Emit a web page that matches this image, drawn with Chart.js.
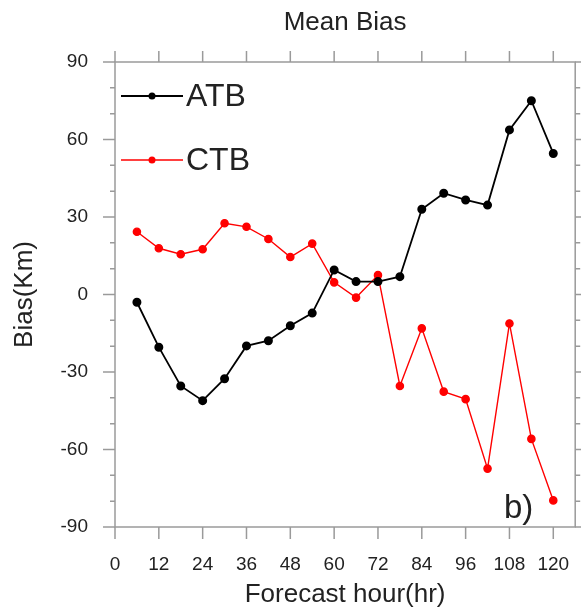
<!DOCTYPE html>
<html>
<head>
<meta charset="utf-8">
<script src="https://cdn.jsdelivr.net/npm/chart.js@4/dist/chart.umd.min.js"></script>
<style>
  html, body { margin: 0; padding: 0; background: #fff; }
  #wrap { width: 581px; height: 610px; position: relative; }
</style>
</head>
<body>
<div id="wrap"><canvas id="c"></canvas></div>
<script>
// ---- data ----
const hours = [6, 12, 18, 24, 30, 36, 42, 48, 54, 60, 66, 72, 78, 84, 90, 96, 102, 108, 114, 120];
const atb = [-3, -20.4, -35.4, -41.1, -32.6, -19.9, -17.9, -12.1, -7.2, 9.5,
             5.0, 5.0, 6.9, 33.0, 39.2, 36.6, 34.6, 63.7, 75.0, 54.6];
const ctb = [24.3, 17.9, 15.6, 17.5, 27.6, 26.2, 21.5, 14.5, 19.7, 4.7,
             -1.2, 7.5, -35.4, -13.1, -37.6, -40.5, -67.4, -11.2, -55.9, -79.7];
const xTicks = [0, 12, 24, 36, 48, 60, 72, 84, 96, 108, 120];
const yTicks = [-90, -60, -30, 0, 30, 60, 90];
const yMinor = [-80, -70, -50, -40, -20, -10, 10, 20, 40, 50, 70, 80];

const FONT = "'Liberation Sans', Arial, Helvetica, sans-serif";
const TEXT = '#222';
const FRAME = '#9a9a9a';

function toPoints(xs, ys) {
  return xs.map((x, i) => ({ x: x, y: ys[i] }));
}

// frame + outward ticks, like the original plot
const framePlugin = {
  id: 'frame',
  beforeDatasetsDraw(chart) {
    const { ctx, chartArea: a, scales: { x, y } } = chart;
    ctx.save();
    ctx.strokeStyle = FRAME;
    ctx.lineWidth = 1.5;
    ctx.strokeRect(a.left, a.top, a.right - a.left, a.bottom - a.top);
    ctx.beginPath();
    xTicks.forEach(v => {
      const px = x.getPixelForValue(v);
      ctx.moveTo(px, a.bottom); ctx.lineTo(px, a.bottom + 12);
      ctx.moveTo(px, a.top); ctx.lineTo(px, a.top - 11);
    });
    yTicks.forEach(v => {
      const py = y.getPixelForValue(v);
      ctx.moveTo(a.left, py); ctx.lineTo(a.left - 12, py);
      ctx.moveTo(a.right, py); ctx.lineTo(a.right + 12, py);
    });
    yMinor.forEach(v => {
      const py = y.getPixelForValue(v);
      ctx.moveTo(a.left, py); ctx.lineTo(a.left - 5, py);
      ctx.moveTo(a.right, py); ctx.lineTo(a.right + 5, py);
    });
    ctx.stroke();
    ctx.restore();
  },
  afterDraw(chart) {
    const { ctx, chartArea: a } = chart;
    const cx = (a.left + a.right) / 2;
    const cy = (a.top + a.bottom) / 2;
    ctx.save();
    ctx.fillStyle = TEXT;
    ctx.textAlign = 'center';
    ctx.textBaseline = 'middle';
    // title
    ctx.font = '26px ' + FONT;
    ctx.fillText('Mean Bias', cx, 23);
    // x axis title
    ctx.fillText('Forecast hour(hr)', cx, 595);
    // y axis title
    ctx.save();
    ctx.translate(25, cy);
    ctx.rotate(-Math.PI / 2);
    ctx.fillText('Bias(Km)', 0, 0);
    ctx.restore();
    // panel label
    ctx.textAlign = 'left';
    ctx.textBaseline = 'alphabetic';
    ctx.font = '33px ' + FONT;
    ctx.fillText('b)', 504, 518);

    // legend
    const rows = [
      { label: 'ATB', ds: chart.data.datasets[0], y: a.top + 34 },
      { label: 'CTB', ds: chart.data.datasets[1], y: a.top + 98 }
    ];
    rows.forEach(r => {
      ctx.strokeStyle = r.ds.borderColor;
      ctx.lineWidth = r.ds.borderWidth;
      ctx.beginPath();
      ctx.moveTo(a.left + 6, r.y);
      ctx.lineTo(a.left + 68, r.y);
      ctx.stroke();
      ctx.fillStyle = r.ds.pointBackgroundColor;
      ctx.beginPath();
      ctx.arc(a.left + 37, r.y, 3.5, 0, Math.PI * 2);
      ctx.fill();
      ctx.fillStyle = TEXT;
      ctx.font = '32px ' + FONT;
      ctx.textBaseline = 'middle';
      ctx.fillText(r.label, a.left + 71, r.y + 1);
    });
    ctx.restore();
  }
};

new Chart(document.getElementById('c'), {
  type: 'line',
  data: {
    datasets: [
      {
        label: 'ATB',
        data: toPoints(hours, atb),
        borderColor: '#000',
        backgroundColor: '#000',
        pointBackgroundColor: '#000',
        pointBorderColor: '#000',
        borderWidth: 1.8,
        pointRadius: 3.6,
        tension: 0
      },
      {
        label: 'CTB',
        data: toPoints(hours, ctb),
        borderColor: '#ff0000',
        backgroundColor: '#ff0000',
        pointBackgroundColor: '#ff0000',
        pointBorderColor: '#ff0000',
        borderWidth: 1.4,
        pointRadius: 3.6,
        tension: 0
      }
    ]
  },
  options: {
    responsive: true,
    maintainAspectRatio: false,
    animation: false,
    clip: false,
    layout: { padding: { left: 0, right: 2, top: 62, bottom: 0 } },
    plugins: {
      legend: { display: false },
      title: { display: false },
      tooltip: { enabled: false }
    },
    scales: {
      x: {
        type: 'linear',
        min: 0,
        max: 126,
        afterFit: s => { s.height = 83; s.paddingLeft = 0; s.paddingRight = 0; },
        afterBuildTicks: s => { s.ticks = xTicks.map(v => ({ value: v })); },
        grid: { display: false, drawTicks: false, tickLength: 0 },
        border: { display: false },
        ticks: {
          includeBounds: false,
          padding: 26,
          maxRotation: 0,
          autoSkip: false,
          color: TEXT,
          font: { family: FONT, size: 19 }
        }
      },
      y: {
        min: -90,
        max: 90,
        afterFit: s => { s.width = 115; s.paddingTop = 0; s.paddingBottom = 0; },
        afterBuildTicks: s => { s.ticks = yTicks.map(v => ({ value: v })); },
        grid: { display: false, drawTicks: false, tickLength: 0 },
        border: { display: false },
        ticks: {
          padding: 27,
          autoSkip: false,
          color: TEXT,
          font: { family: FONT, size: 19 }
        }
      }
    }
  },
  plugins: [framePlugin]
});
</script>
</body>
</html>
